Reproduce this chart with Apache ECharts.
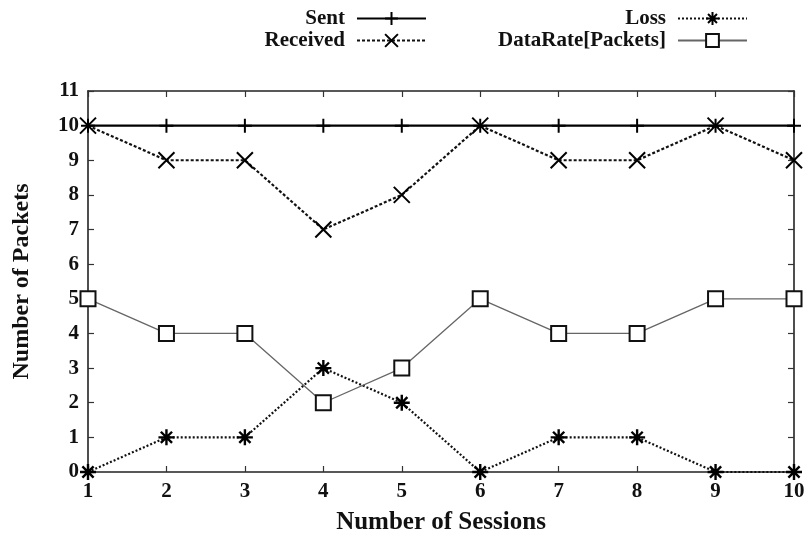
<!DOCTYPE html>
<html><head><meta charset="utf-8">
<script src="https://cdn.jsdelivr.net/npm/echarts@6/dist/echarts.min.js"></script>
<style>html,body{margin:0;padding:0;background:#fff}#c{width:809px;height:543px}</style>
</head><body><div id="c"></div>
<script>
const sessions = [1,2,3,4,5,6,7,8,9,10];
const sent = [10,10,10,10,10,10,10,10,10,10];
const received = [10,9,9,7,8,10,9,9,10,9];
const loss = [0,1,1,3,2,0,1,1,0,0];
const dataRate = [5,4,4,2,3,5,4,4,5,5];
const yTicks = [0,1,2,3,4,5,6,7,8,9,10,11];

const FONT = '"Liberation Serif", "DejaVu Serif", serif';
const pair = arr => sessions.map((s,i)=>[s,arr[i]]);
const plus = 'path://M0,-10L0,10M-10,0L10,0';
const cross = 'path://M-8,-8L8,8M-8,8L8,-8';
const star = 'path://M0,-10L0,10M-10,0L10,0M-7,-7L7,7M-7,7L7,-7';

const chart = echarts.init(document.getElementById('c'), null, {renderer:'canvas'});
const legendBase = {orient:'vertical', align:'right', padding:0, itemGap:1, itemWidth:69, itemHeight:16,
  textStyle:{fontFamily:FONT, fontWeight:'bold', fontSize:21, color:'#111', padding:[0,7,0,0]}};
const axisLine = {show:true, onZero:false, lineStyle:{color:'#222', width:1.6}};
const tick = {inside:true, length:6, lineStyle:{color:'#333', width:1.2}};
chart.setOption({
  animation:false,
  backgroundColor:'#fff',
  legend:[
    Object.assign({}, legendBase, {right:382, top:8, data:['Sent','Received']}),
    Object.assign({}, legendBase, {right:61, top:8, data:['Loss','DataRate[Packets]']})
  ],
  grid:{left:88, right:15, top:91, bottom:71},
  xAxis:[{type:'value', min:1, max:10, interval:1, name:'Number of Sessions', nameLocation:'middle', nameGap:38,
      nameTextStyle:{fontFamily:FONT, fontWeight:'bold', fontSize:25, color:'#111'},
      axisLine, axisTick:tick,
      axisLabel:{fontFamily:FONT, fontWeight:'bold', fontSize:21, color:'#111', margin:9}, splitLine:{show:false}},
    {type:'value', min:1, max:10, interval:1, position:'top', axisLine,
      axisTick:tick, axisLabel:{show:false}, splitLine:{show:false}}],
  yAxis:[{type:'value', min:0, max:11, interval:1, name:'Number of Packets', nameLocation:'middle', nameGap:54,
      nameTextStyle:{fontFamily:FONT, fontWeight:'bold', fontSize:24, color:'#111'},
      axisLine, axisTick:tick,
      axisLabel:{fontFamily:FONT, fontWeight:'bold', fontSize:21, color:'#111', margin:9,
        formatter:v=>yTicks.includes(v)?String(v):''}, splitLine:{show:false}},
    {type:'value', min:0, max:11, interval:1, position:'right', axisLine,
      axisTick:tick, axisLabel:{show:false}, splitLine:{show:false}}],
  series:[
    {name:'Sent', type:'line', data:pair(sent), symbol:plus, symbolSize:14,
     lineStyle:{color:'#000', width:2.2}, itemStyle:{color:'#000', borderColor:'#000', borderWidth:2}},
    {name:'Received', type:'line', data:pair(received), symbol:cross, symbolSize:16,
     lineStyle:{color:'#111', width:2.2, type:[3,2]}, itemStyle:{color:'#000', borderColor:'#000', borderWidth:2}},
    {name:'Loss', type:'line', data:pair(loss), symbol:star, symbolSize:16,
     lineStyle:{color:'#111', width:2.2, type:[2,2]}, itemStyle:{color:'#000', borderColor:'#000', borderWidth:2.4}},
    {name:'DataRate[Packets]', type:'line', data:pair(dataRate), symbol:'rect', symbolSize:15,
     lineStyle:{color:'#666', width:1.3}, itemStyle:{color:'#fff', borderColor:'#111', borderWidth:2}}
  ]
});
</script></body></html>
